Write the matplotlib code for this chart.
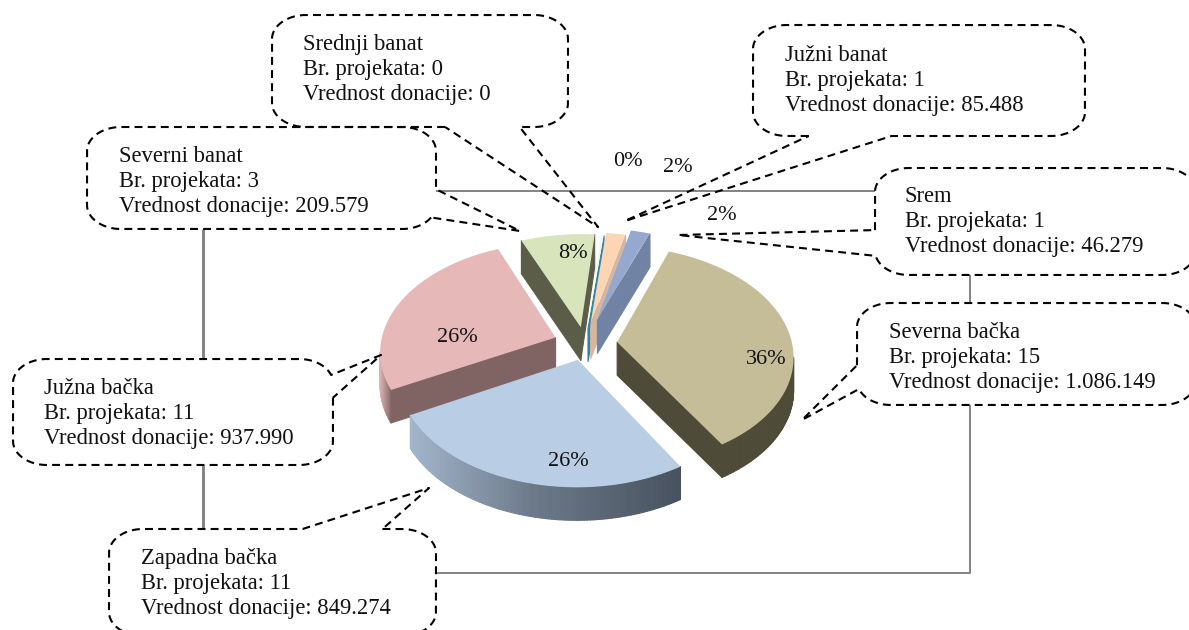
import numpy as np
import matplotlib
matplotlib.use("Agg")
import matplotlib.pyplot as plt
from matplotlib.collections import PolyCollection
from matplotlib.colors import LinearSegmentedColormap
from matplotlib.transforms import Transform

# podaci
regions = ["Severna bačka", "Zapadna bačka", "Južna bačka", "Severni banat",
           "Srednji banat", "Južni banat", "Srem"]
projects = [15, 11, 11, 3, 0, 1, 1]
donations = [1086149, 849274, 937990, 209579, 0, 85488, 46279]
shares = [35.6, 26, 26.4, 7.7, 0.3, 2, 2]
share_labels = ["36%", "26%", "26%", "8%", "0%", "2%", "2%"]

# izgled
top_colors = ["#c4bd97", "#b9cde5", "#e6b9b8", "#d8e4bc", "#f2f6f8", "#fcd5b5", "#95a9d0"]
side_colors = [
    [(0, "#4f4b39"), (1, "#4f4b39")],
    [(0, "#a3b6cc"), (0.45, "#6d7a8a"), (1, "#485260")],
    [(0, "#dcb4b3"), (0.07, "#7f6463"), (1, "#7f6463")],
    [(0, "#5b5d49"), (1, "#5b5d49")],
    [(0, "#31859c"), (1, "#31859c")],
    [(0, "#d6b69d"), (1, "#d6b69d")],
    [(0, "#7083a4"), (1, "#7083a4")],
]
explode = [0.185, 0.15, 0.18, 0.16, 0.15, 0.18, 0.24]
draw_order = [3, 4, 5, 6, 2, 0, 1]
depth = 33

# pozicije (px): okvir, dve tacke repa, vrh repa, tekst (bazna linija prvog reda)
boxes = [
    ((857, 303, 1196, 405), (857, 365), (857, 391), (802, 420), (889, 338)),
    ((109, 529, 436, 636), (302, 529), (383, 529), (429, 488), (141, 564)),
    ((13, 359, 333, 465), (333, 375), (336, 398), (381, 355), (44, 394)),
    ((87, 127, 436, 229), (436, 189), (433, 218), (520, 231), (119, 162)),
    ((272, 15, 568, 127), (445, 127), (519, 127), (598, 227), (303, 50)),
    ((753, 25, 1085, 136), (809, 136), (892, 136), (625, 221), (785, 61)),
    ((875, 168, 1196, 275), (875, 230), (875, 257), (678, 235), (905, 202)),
]
label_pos = [(766, 360), (568, 461), (457, 338), (573, 254), (628, 162), (678, 167), (722, 216)]
gray_lines = [
    ([203, 203], [229, 359], 3.0),
    ([203, 203], [465, 529], 3.0),
    ([436, 875], [191, 191], 2.0),
    ([970, 970], [275, 303], 2.0),
    ([970, 970, 436], [405, 573, 573], 2.0),
]


class Perspective(Transform):
    """Ravan pite -> pikseli slike, sa blagom perspektivom."""
    input_dims = 2
    output_dims = 2

    def transform_non_affine(self, values):
        values = np.asarray(values, dtype=float)
        w = 1 + 0.12 * values[:, 1]
        return np.column_stack([585 + 175 * values[:, 0] / w,
                                344 - 108 * values[:, 1] / w])


def wedge_outline(wedge):
    # gusto uzorkovan luk, da ivica ostane glatka posle perspektive
    angles = np.radians(np.linspace(wedge.theta1, wedge.theta2, 120))
    cx, cy = wedge.center
    arc = np.column_stack([cx + wedge.r * np.cos(angles), cy + wedge.r * np.sin(angles)])
    return np.vstack([[wedge.center], arc, [wedge.center]])


def callout_path(box, a, b, tip, rx=34, ry=24):
    x0, y0, x1, y1 = box
    t = np.linspace(0, np.pi / 2, 24)
    parts = [
        np.linspace((x0 + rx, y0), (x1 - rx, y0), 160),
        np.column_stack([x1 - rx + rx * np.sin(t), y0 + ry - ry * np.cos(t)]),
        np.linspace((x1, y0 + ry), (x1, y1 - ry), 80),
        np.column_stack([x1 - rx + rx * np.cos(t), y1 - ry + ry * np.sin(t)]),
        np.linspace((x1 - rx, y1), (x0 + rx, y1), 160),
        np.column_stack([x0 + rx - rx * np.sin(t), y1 - ry + ry * np.cos(t)]),
        np.linspace((x0, y1 - ry), (x0, y0 + ry), 80),
        np.column_stack([x0 + rx - rx * np.cos(t), y0 + ry - ry * np.sin(t)]),
    ]
    pts = np.vstack(parts)
    ia = np.argmin(np.hypot(*(pts - a).T))
    ib = np.argmin(np.hypot(*(pts - b).T))
    i, j = sorted((ia, ib))
    # izbaci kraci luk izmedju tacaka repa i ubaci vrh
    if j - i < len(pts) / 2:
        outline = np.vstack([pts[j:], pts[:i + 1], [tip], pts[j:j + 1]])
    else:
        outline = np.vstack([pts[i:j + 1], [tip], pts[i:i + 1]])
    return outline


plt.rcParams["font.family"] = ["Liberation Serif", "DejaVu Serif"]
fig = plt.figure(figsize=(11.89, 6.30), dpi=100)
ax = fig.add_axes([0, 0, 1, 1])

wedges, _ = ax.pie(shares, explode=explode, startangle=69.5, counterclock=False,
                   colors=top_colors, wedgeprops=dict(linewidth=0))
ax.set_aspect("auto")
ax.set_xlim(0, 1189)
ax.set_ylim(630, 0)
ax.axis("off")

# sive linije idu ispod svega
for xs, ys, lw in gray_lines:
    ax.plot(xs, ys, color="#858585", lw=lw * 0.72, zorder=1, solid_capstyle="butt")

persp = Perspective()
z = 2
for idx in draw_order:
    wedge = wedges[idx]
    poly = persp.transform(wedge_outline(wedge))
    cmap = LinearSegmentedColormap.from_list("side", side_colors[idx])
    low, high = poly[:, 0].min(), poly[:, 0].max()
    quads, colors = [], []
    for p, q in zip(poly[:-1], poly[1:]):
        if q[0] <= p[0]:  # zadnja strana se ne vidi
            continue
        quads.append([p, q, q + (0, depth), p + (0, depth)])
        colors.append(cmap(((p[0] + q[0]) / 2 - low) / (high - low)))
    ax.add_collection(PolyCollection(quads, facecolors=colors, edgecolors=colors,
                                     linewidths=0.8, zorder=z))
    wedge.set_visible(False)
    ax.fill(poly[:, 0], poly[:, 1], color=top_colors[idx], lw=0, zorder=z + 1)
    z += 2

for label, (x, y) in zip(share_labels, label_pos):
    ax.text(x, y, label, ha="center", va="center", fontsize=16, color="#111111", zorder=30)

for i, (box, a, b, tip, text_pos) in enumerate(boxes):
    outline = callout_path(box, a, b, tip)
    ax.plot(outline[:, 0], outline[:, 1], color="black", lw=1.5,
            linestyle=(0, (3.8, 2.5)), zorder=20)
    value = f"{donations[i]:,}".replace(",", ".")
    lines = [regions[i], f"Br. projekata: {projects[i]}", f"Vrednost donacije: {value}"]
    for k, line in enumerate(lines):
        ax.text(text_pos[0], text_pos[1] + k * 25, line, ha="left", va="baseline",
                fontsize=16.3, color="#111111", zorder=30)

fig.savefig("out.png", dpi=100)
